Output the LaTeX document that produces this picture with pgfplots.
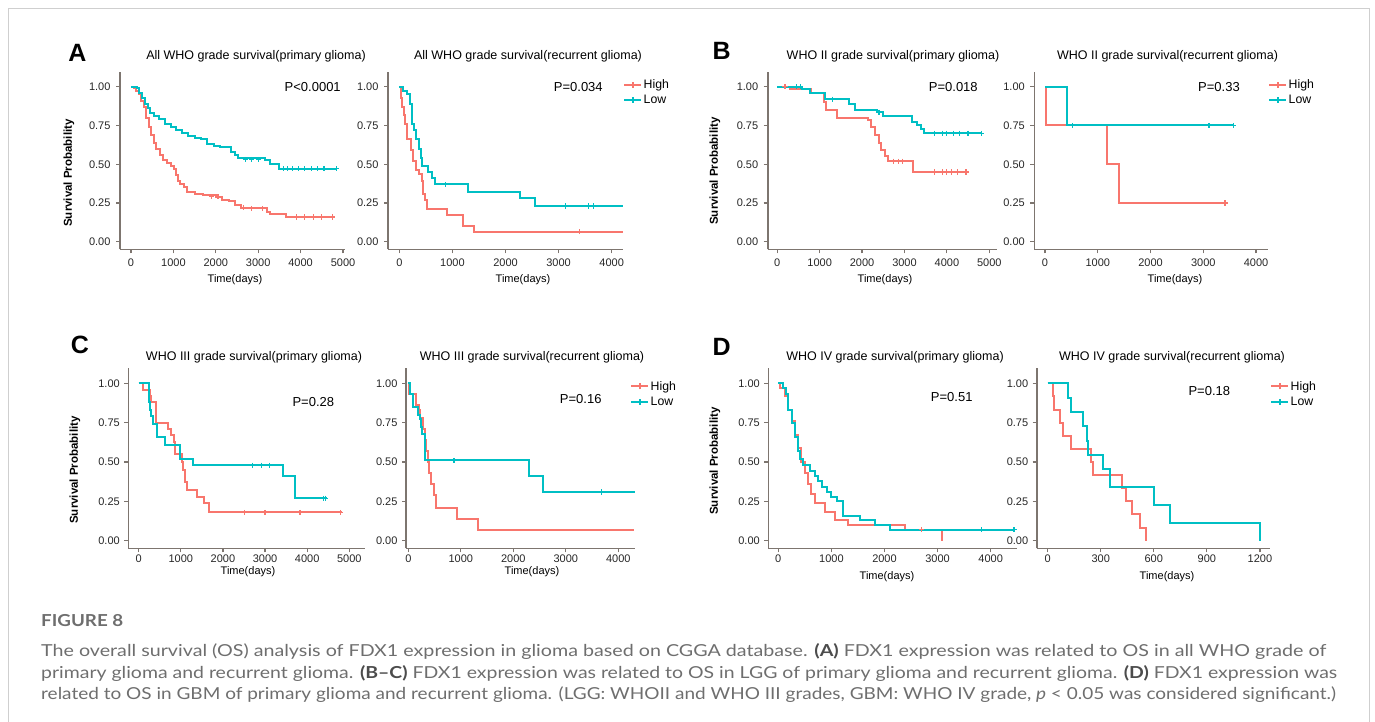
\documentclass[border=0pt]{standalone}
\usepackage{fontspec}
\setmainfont{Liberation Sans}
\newfontfamily\capfont{Lato}
\usepackage{graphicx}
\usepackage{pgfplots}
\pgfplotsset{compat=1.18}

\definecolor{hi}{HTML}{F8766D}
\definecolor{lo}{HTML}{00BFC4}
\definecolor{axg}{HTML}{7D756F}
\definecolor{capg}{HTML}{6E6E6E}
\definecolor{frameg}{HTML}{CFCFCF}

\pgfplotsset{
  km/.style={
    scale only axis,
    axis x line*=bottom, axis y line*=left,
    axis line style={-, draw=axg, line width=1.6pt},
    tick align=outside, major tick length=4pt,
    tick style={draw=axg, line width=1.2pt},
    ytick={0,0.25,0.5,0.75,1},
    yticklabels={0.00,0.25,0.50,0.75,1.00},
    ticklabel style={font=\fontsize{11}{12}\selectfont, text=black!85},
    legend image code/.code={
      \draw[#1] (0pt,0pt) -- (17pt,0pt);
      \draw[#1] (8.5pt,-3pt) -- (8.5pt,3pt);},
    legend style={draw=none, fill=none, inner sep=0pt,
      font=\fontsize{12.3}{14}\selectfont, row sep=2pt,
      nodes={inner sep=1.5pt}},
    legend cell align=left,
  },
  toprow/.style={km, height=177.3pt, ymin=-0.049, ymax=1.095,
    xticklabel shift=2pt, yticklabel shift=2pt},
  botrow/.style={km, height=180.3pt, ymin=-0.048, ymax=1.097,
    xticklabel shift=-1.5pt, yticklabel shift=1pt},
  hs/.style={hi, const plot, line width=2pt, forget plot},
  ls/.style={lo, const plot, line width=2pt, forget plot},
  cens/.style={only marks, mark=+, mark size=2.6pt, line width=1.2pt, forget plot},
}

\newcommand\ttl{\fontsize{12.5}{14}\selectfont}
\newcommand\pv{\fontsize{13}{15}\selectfont}
\newcommand\tml{\fontsize{11}{13}\selectfont}
\newcommand\spl{\bfseries\fontsize{11.5}{13}\selectfont}
\newcommand\lett{\bfseries\fontsize{25}{28}\selectfont}
\newcommand\capstyle{\capfont\fontsize{16.5}{18}\selectfont\color{capg}}

\begin{document}
\begin{tikzpicture}
\useasboundingbox (0pt,0pt) rectangle (1375pt,-722pt);
\draw[frameg, line width=1pt] (8pt,-722pt) -- (8pt,-9pt) -- (1369pt,-9pt) -- (1369pt,-722pt);

% ---------- A left
\begin{axis}[toprow, at={(120pt,-249.3pt)}, anchor=south west, width=225pt,
  xmin=-259, xmax=5047, xtick={0,1000,2000,3000,4000,5000},
  xticklabels={0,1000,2000,3000,4000,5000}]
\addplot[hs] coordinates {
(0,1.00) (60,0.99) (120,0.97) (180,0.95) (240,0.91) (300,0.87) (360,0.80)
(420,0.74) (480,0.69) (540,0.64) (600,0.60) (680,0.56) (760,0.53) (850,0.51)
(950,0.49) (1010,0.47) (1050,0.43) (1100,0.39) (1150,0.37) (1250,0.35)
(1320,0.32) (1500,0.31) (1700,0.30) (2000,0.29) (2150,0.27) (2300,0.26)
(2450,0.24) (2600,0.22) (2800,0.215) (3200,0.19) (3280,0.18) (3650,0.16) (4780,0.16)};
\addplot[ls] coordinates {
(0,1.00) (150,0.99) (200,0.96) (260,0.93) (330,0.89) (400,0.86) (460,0.83)
(540,0.81) (650,0.79) (800,0.76) (950,0.74) (1050,0.72) (1200,0.70) (1350,0.68)
(1500,0.67) (1650,0.66) (1800,0.63) (1950,0.62) (2100,0.61) (2350,0.58)
(2450,0.56) (2520,0.54) (3150,0.53) (3280,0.50) (3500,0.47) (4850,0.47)};
\addplot[hi, cens] coordinates {(1900,0.29) (2050,0.29) (2650,0.22) (2850,0.215)
(3100,0.215) (3900,0.16) (4100,0.16) (4300,0.16) (4500,0.16) (4750,0.16)};
\addplot[lo, cens] coordinates {(2700,0.53) (2850,0.53) (3000,0.53) (3600,0.47)
(3700,0.47) (3800,0.47) (3950,0.47) (4100,0.47) (4250,0.47) (4400,0.47) (4550,0.47) (4850,0.47)};
\end{axis}

% ---------- A right
\begin{axis}[toprow, at={(388pt,-249.3pt)}, anchor=south west, width=235pt,
  xmin=-213, xmax=4213, xtick={0,1000,2000,3000,4000},
  xticklabels={0,1000,2000,3000,4000},
  legend style={at={(1,0.887)}, anchor=west}]
\addplot[hs] coordinates {
(0,1.00) (25,0.93) (45,0.87) (80,0.82) (110,0.76) (140,0.66) (225,0.59)
(250,0.52) (320,0.46) (380,0.44) (420,0.39) (450,0.31) (490,0.27) (530,0.21)
(900,0.17) (1200,0.10) (1400,0.065) (4220,0.065)};
\addplot[ls] coordinates {
(0,1.00) (75,0.97) (150,0.95) (200,0.89) (230,0.81) (245,0.76) (280,0.72)
(320,0.66) (370,0.60) (400,0.54) (430,0.49) (545,0.45) (610,0.41) (680,0.37)
(1300,0.32) (2280,0.28) (2560,0.23) (4220,0.23)};
\addplot[hi, cens] coordinates {(3400,0.065)};
\addplot[lo, cens] coordinates {(870,0.37) (3130,0.23) (3560,0.23) (3650,0.23)};
\addlegendimage{hi, line width=2pt}\addlegendentry{High}
\addlegendimage{lo, line width=2pt}\addlegendentry{Low}
\end{axis}

% ---------- B left
\begin{axis}[toprow, at={(767.7pt,-249.3pt)}, anchor=south west, width=229.3pt,
  xmin=-226, xmax=5182, xtick={0,1000,2000,3000,4000,5000},
  xticklabels={0,1000,2000,3000,4000,5000}]
\addplot[hs] coordinates {
(0,1.00) (300,0.985) (800,0.96) (1100,0.90) (1150,0.85) (1400,0.80) (2150,0.785)
(2200,0.74) (2300,0.69) (2400,0.635) (2450,0.59) (2530,0.55) (2600,0.52)
(3200,0.45) (4470,0.45)};
\addplot[ls] coordinates {
(0,1.00) (580,0.985) (770,0.96) (1120,0.92) (1700,0.89) (1830,0.85) (2350,0.835)
(2500,0.81) (3170,0.775) (3300,0.75) (3380,0.73) (3450,0.70) (4820,0.70)};
\addplot[hi, cens] coordinates {(180,1.0) (2750,0.52) (2850,0.52) (2950,0.52)
(3700,0.45) (3900,0.45) (4000,0.45) (4100,0.45) (4250,0.45) (4450,0.45)};
\addplot[lo, cens] coordinates {(450,1.0) (550,1.0) (1300,0.92) (2400,0.835)
(3700,0.70) (3900,0.70) (4000,0.70) (4150,0.70) (4300,0.70) (4500,0.70) (4820,0.70)};
\end{axis}

% ---------- B right
\begin{axis}[toprow, at={(1034.3pt,-249.3pt)}, anchor=south west, width=233.7pt,
  xmin=-203, xmax=4227, xtick={0,1000,2000,3000,4000},
  xticklabels={0,1000,2000,3000,4000},
  legend style={at={(1,0.887)}, anchor=west}]
\addplot[hs] coordinates {
(0,1.00) (15,0.75) (1180,0.50) (1410,0.25) (3410,0.25)};
\addplot[ls] coordinates {
(0,1.00) (410,0.75) (3570,0.75)};
\addplot[hi, cens] coordinates {(3410,0.25)};
\addplot[lo, cens] coordinates {(520,0.75) (3110,0.75) (3570,0.75)};
\addlegendimage{hi, line width=2pt}\addlegendentry{High}
\addlegendimage{lo, line width=2pt}\addlegendentry{Low}
\end{axis}

% ---------- C left
\begin{axis}[botrow, at={(128.3pt,-548.3pt)}, anchor=south west, width=236.7pt,
  xmin=-247, xmax=5373, xtick={0,1000,2000,3000,4000,5000},
  xticklabels={0,1000,2000,3000,4000,5000}]
\addplot[hs] coordinates {
(0,1.00) (95,0.96) (270,0.92) (300,0.88) (420,0.75) (700,0.71) (760,0.67)
(830,0.63) (850,0.55) (1020,0.50) (1060,0.45) (1100,0.37) (1150,0.32)
(1380,0.28) (1550,0.24) (1680,0.18) (4820,0.18)};
\addplot[ls] coordinates {
(0,1.00) (250,0.88) (270,0.83) (300,0.79) (350,0.74) (430,0.66) (630,0.61)
(980,0.52) (1300,0.48) (3430,0.41) (3710,0.27) (4460,0.27)};
\addplot[hi, cens] coordinates {(2520,0.18) (3000,0.18) (3830,0.18) (4800,0.18)};
\addplot[lo, cens] coordinates {(2700,0.48) (2920,0.48) (3100,0.48) (4380,0.27) (4430,0.27)};
\end{axis}

% ---------- C right
\begin{axis}[botrow, at={(406pt,-548.3pt)}, anchor=south west, width=229pt,
  xmin=-44, xmax=4318, xtick={0,1000,2000,3000,4000},
  xticklabels={0,1000,2000,3000,4000},
  legend style={at={(0.978,0.856)}, anchor=west}]
\addplot[hs] coordinates {
(0,1.00) (20,0.93) (150,0.86) (210,0.83) (230,0.78) (280,0.71) (310,0.64)
(340,0.57) (380,0.50) (400,0.43) (440,0.36) (480,0.29) (530,0.21) (920,0.14)
(1330,0.07) (4290,0.07)};
\addplot[ls] coordinates {
(0,1.00) (35,0.93) (90,0.85) (190,0.80) (220,0.77) (250,0.72) (270,0.68)
(320,0.51) (2290,0.41) (2570,0.31) (4320,0.31)};
\addplot[lo, cens] coordinates {(870,0.51) (3680,0.31)};
\addlegendimage{hi, line width=2pt}\addlegendentry{High}
\addlegendimage{lo, line width=2pt}\addlegendentry{Low}
\end{axis}

% ---------- D left
\begin{axis}[botrow, at={(768.3pt,-548.3pt)}, anchor=south west, width=248.7pt,
  xmin=-188, xmax=4496, xtick={0,1000,2000,3000,4000},
  xticklabels={0,1000,2000,3000,4000}]
\addplot[hs] coordinates {
(0,1.00) (30,0.97) (120,0.92) (190,0.83) (250,0.76) (310,0.67) (370,0.59)
(430,0.50) (500,0.43) (560,0.36) (620,0.30) (690,0.24) (880,0.18) (1070,0.13)
(1320,0.10) (2390,0.07) (3080,0.00)};
\addplot[ls] coordinates {
(0,1.00) (95,0.97) (140,0.93) (190,0.83) (250,0.75) (310,0.66) (370,0.57)
(410,0.52) (470,0.48) (600,0.44) (690,0.41) (750,0.38) (820,0.34) (910,0.31)
(1000,0.28) (1100,0.25) (1220,0.16) (1540,0.13) (1820,0.10) (2100,0.07) (4460,0.07)};
\addplot[hi, cens] coordinates {(2700,0.07)};
\addplot[lo, cens] coordinates {(3820,0.07) (4440,0.07)};
\end{axis}

% ---------- D right
\begin{axis}[botrow, at={(1036.7pt,-548.3pt)}, anchor=south west, width=233.3pt,
  xmin=-62, xmax=1257, xtick={0,300,600,900,1200},
  xticklabels={0,300,600,900,1200},
  legend style={at={(1,0.856)}, anchor=west}]
\addplot[hs] coordinates {
(0,1.000) (28,0.917) (38,0.833) (70,0.750) (85,0.667) (133,0.583) (245,0.500)
(258,0.417) (418,0.333) (443,0.250) (475,0.167) (522,0.083) (554,0.000)};
\addplot[ls] coordinates {
(0,1.000) (117,0.909) (130,0.818) (202,0.727) (222,0.636) (230,0.545)
(311,0.455) (352,0.341) (601,0.227) (691,0.114) (1200,0.000)};
\addlegendimage{hi, line width=2pt}\addlegendentry{High}
\addlegendimage{lo, line width=2pt}\addlegendentry{Low}
\end{axis}

% ---------- titles, letters, labels
\node[anchor=base, font=\lett] at (77.5pt,-61.7pt) {A};
\node[anchor=base, font=\lett] at (721.7pt,-60pt) {B};
\node[anchor=base, font=\lett] at (80pt,-353pt) {C};
\node[anchor=base, font=\lett] at (721.7pt,-355pt) {D};

\node[anchor=base, font=\ttl] at (256pt,-60pt) {All WHO grade survival(primary glioma)};
\node[anchor=base, font=\ttl] at (528pt,-60pt) {All WHO grade survival(recurrent glioma)};
\node[anchor=base, font=\ttl] at (893pt,-60pt) {WHO II grade survival(primary glioma)};
\node[anchor=base, font=\ttl] at (1167.5pt,-60pt) {WHO II grade survival(recurrent glioma)};
\node[anchor=base, font=\ttl] at (254pt,-360pt) {WHO III grade survival(primary glioma)};
\node[anchor=base, font=\ttl] at (532pt,-360pt) {WHO III grade survival(recurrent glioma)};
\node[anchor=base, font=\ttl] at (895pt,-360pt) {WHO IV grade survival(primary glioma)};
\node[anchor=base, font=\ttl] at (1172pt,-360pt) {WHO IV grade survival(recurrent glioma)};

\node[anchor=base, font=\pv] at (312.7pt,-91.4pt) {P<0.0001};
\node[anchor=base, font=\pv] at (578.3pt,-91.4pt) {P=0.034};
\node[anchor=base, font=\pv] at (953.3pt,-91.4pt) {P=0.018};
\node[anchor=base, font=\pv] at (1219pt,-91.4pt) {P=0.33};
\node[anchor=base, font=\pv] at (313.3pt,-406.4pt) {P=0.28};
\node[anchor=base, font=\pv] at (580.7pt,-403pt) {P=0.16};
\node[anchor=base, font=\pv] at (951.7pt,-401.4pt) {P=0.51};
\node[anchor=base, font=\pv] at (1209.3pt,-395.7pt) {P=0.18};

\node[anchor=base, font=\tml] at (235pt,-282.5pt) {Time(days)};
\node[anchor=base, font=\tml] at (523pt,-282.5pt) {Time(days)};
\node[anchor=base, font=\tml] at (885pt,-282.5pt) {Time(days)};
\node[anchor=base, font=\tml] at (1175pt,-282.5pt) {Time(days)};
\node[anchor=base, font=\tml] at (248pt,-574pt) {Time(days)};
\node[anchor=base, font=\tml] at (532pt,-574pt) {Time(days)};
\node[anchor=base, font=\tml] at (887pt,-579pt) {Time(days)};
\node[anchor=base, font=\tml] at (1167pt,-579pt) {Time(days)};

\node[rotate=90, font=\spl] at (69pt,-173pt) {Survival Probability};
\node[rotate=90, font=\spl] at (715pt,-171pt) {Survival Probability};
\node[rotate=90, font=\spl] at (75pt,-470pt) {Survival Probability};
\node[rotate=90, font=\spl] at (715pt,-461pt) {Survival Probability};

% ---------- caption
\node[anchor=base west, inner sep=0pt] at (41pt,-626pt)
  {\resizebox{82pt}{\height}{\capstyle\bfseries FIGURE 8}};
\node[anchor=base west, inner sep=0pt] at (41pt,-656.7pt)
  {\resizebox{1285pt}{\height}{\capstyle The overall survival (OS) analysis of FDX1 expression in glioma based on CGGA database. {\bfseries\color{black!70}(A)} FDX1 expression was related to OS in all WHO grade of}};
\node[anchor=base west, inner sep=0pt] at (41pt,-678pt)
  {\resizebox{1296pt}{\height}{\capstyle primary glioma and recurrent glioma. {\bfseries\color{black!70}(B–C)} FDX1 expression was related to OS in LGG of primary glioma and recurrent glioma. {\bfseries\color{black!70}(D)} FDX1 expression was}};
\node[anchor=base west, inner sep=0pt] at (41pt,-699.3pt)
  {\resizebox{1295pt}{\height}{\capstyle related to OS in GBM of primary glioma and recurrent glioma. (LGG: WHOII and WHO III grades, GBM: WHO IV grade, \textit{p} < 0.05 was considered significant.)}};
\end{tikzpicture}
\end{document}
